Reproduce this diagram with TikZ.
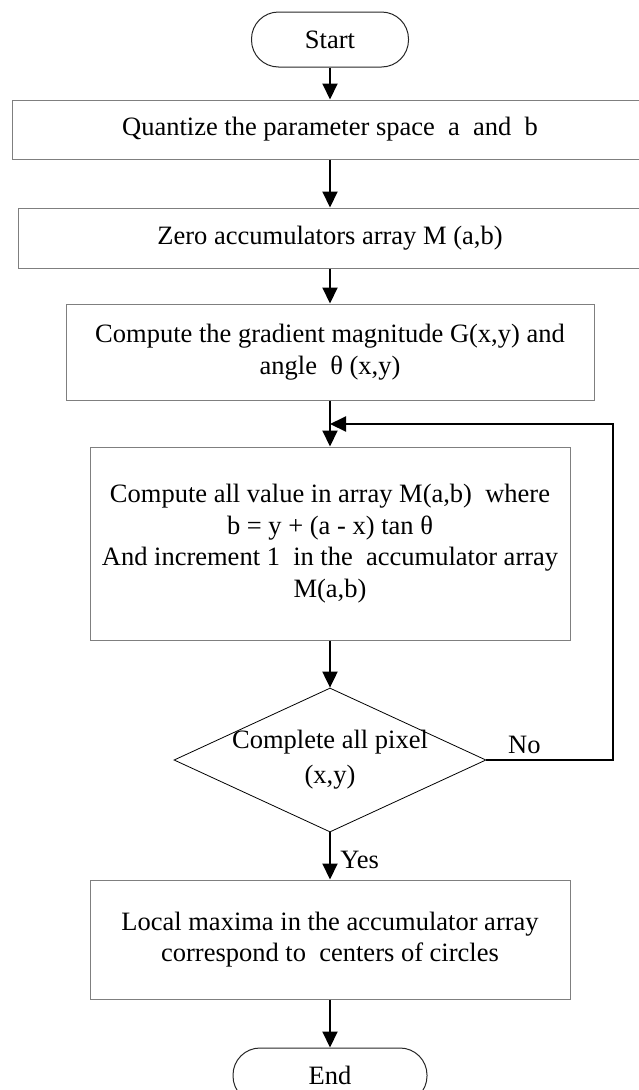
\documentclass[tikz,border=0pt]{standalone}
\usepackage{fontspec}
\setmainfont{Liberation Serif}
\usetikzlibrary{arrows.meta, shapes.geometric}
\definecolor{boxgray}{HTML}{7F7F7F}

\begin{document}
\begin{tikzpicture}[x=1pt, y=-1pt,
  font=\fontsize{26.5}{31.5}\selectfont,
  procbox/.style={draw=boxgray, line width=1pt, align=center, inner sep=0pt},
  termbox/.style={draw=black!85, line width=1pt, rounded corners=27pt, minimum height=55pt, inner sep=0pt},
  decbox/.style={draw=black, line width=0.8pt, diamond, aspect=2.17, minimum width=312pt, minimum height=144pt, inner sep=-15pt, align=center, font=\fontsize{26.5}{35}\selectfont},
  flow/.style={-{Triangle[length=16pt, width=15pt]}, line width=2pt}]
  \useasboundingbox (0,0) rectangle (638,1090);

  % terminals
  \node[termbox, minimum width=157pt] (start) at (330,39.5) {Start};
  \node[termbox, minimum width=194pt] (end) at (330,1075.5) {End};

  % process steps
  \node[procbox, minimum width=636pt, minimum height=59pt] (quant) at (330,129.5)
    {Quantize the parameter space \ a \ and \ b};
  \node[procbox, minimum width=624pt, minimum height=60pt] (zero) at (330,238)
    {Zero accumulators array M (a,b)};
  \node[procbox, minimum width=528pt, minimum height=96pt] (grad) at (330,352)
    {Compute the gradient magnitude G(x,y) and\\ angle \ θ (x,y)};
  \node[procbox, minimum width=480pt, minimum height=193pt] (accum) at (330,543.5)
    {Compute all value in array M(a,b) \ where\\ b = y + (a - x) tan θ\\
     And increment 1 \ in the \ accumulator array\\ M(a,b)};
  \node[decbox] (check) at (330,760) {Complete all pixel\\(x,y)};
  \node[procbox, minimum width=480pt, minimum height=119pt] (maxima) at (330,939.5)
    {Local maxima in the accumulator array\\ correspond to \ centers of circles};

  % loop point on the main line
  \coordinate (join) at (330,424);
  \coordinate (corner) at (613,760);

  % connectors
  \draw[flow] (start) -- (quant);
  \draw[flow] (quant) -- (zero);
  \draw[flow] (zero) -- (grad);
  \draw[flow] (grad) -- (accum);
  \draw[flow] (accum) -- (check);
  \draw[flow] (check) -- node[right, xshift=6pt, yshift=-4pt] {Yes} (maxima);
  \draw[flow] (maxima) -- (end);
  \draw[flow] (check.east) -- node[pos=0.3, above, yshift=2pt] {No} (corner) |- (join);
\end{tikzpicture}
\end{document}
